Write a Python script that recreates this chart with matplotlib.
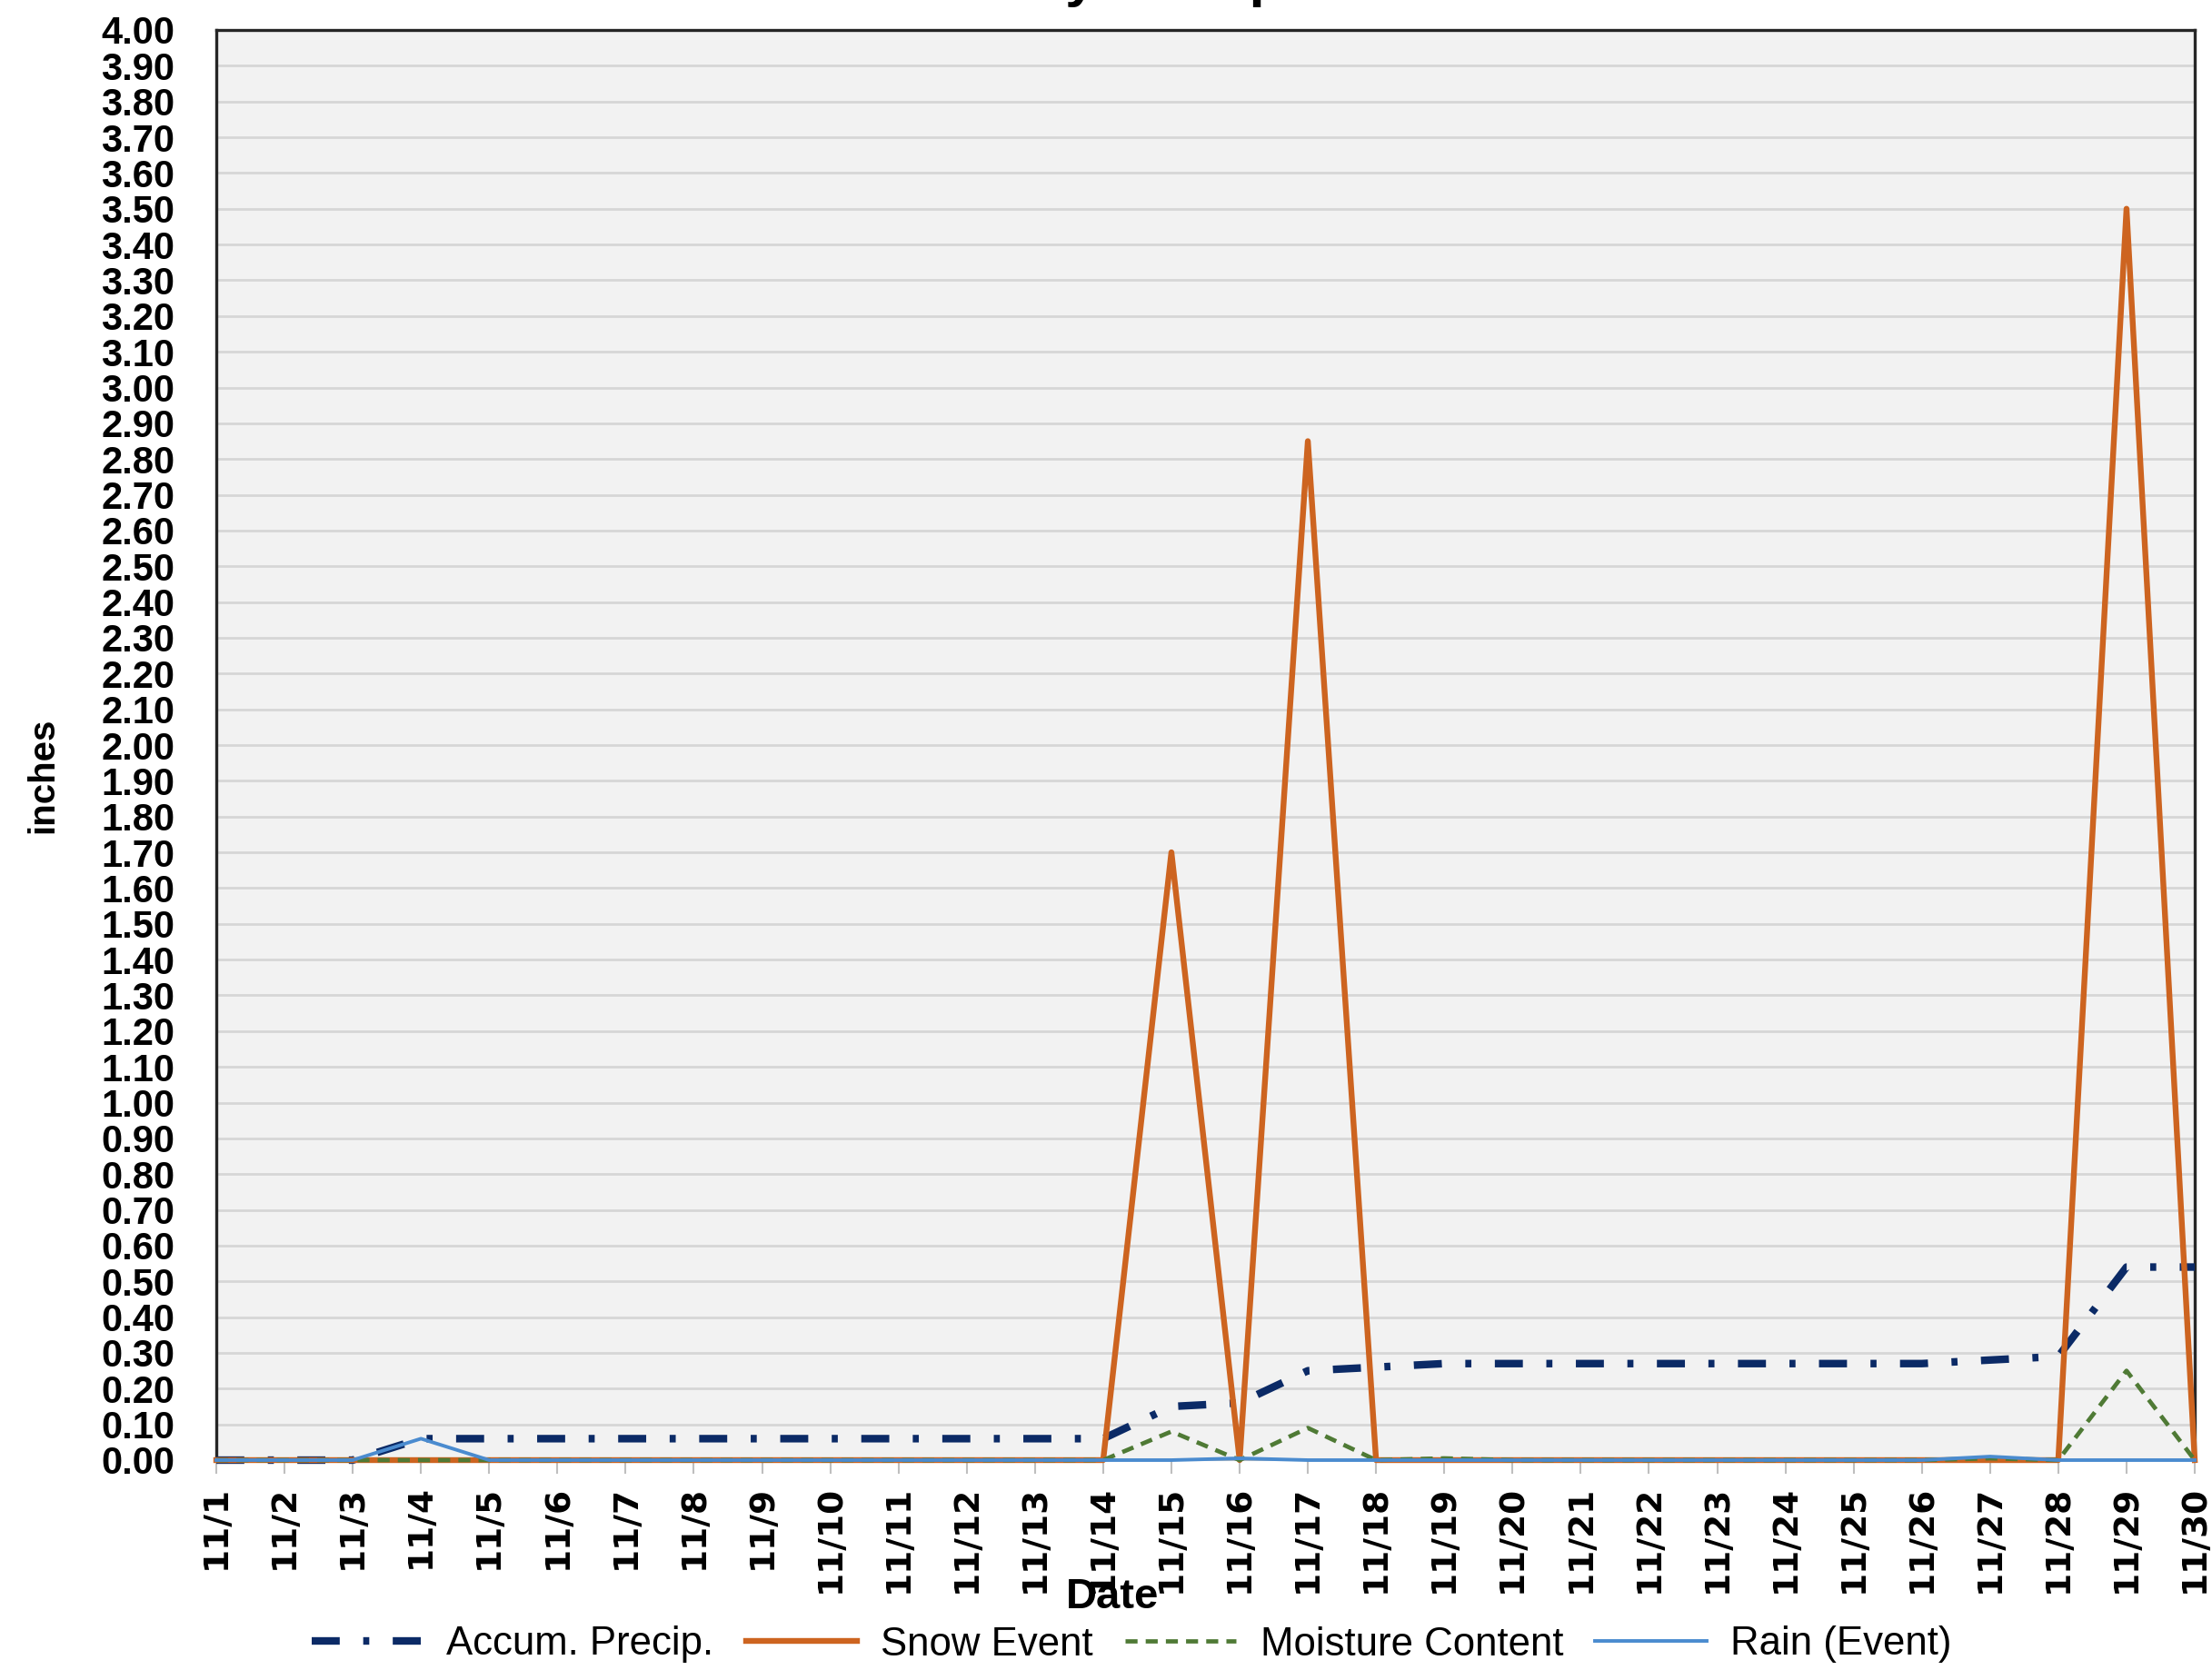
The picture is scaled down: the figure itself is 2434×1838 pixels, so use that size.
import numpy as np
import matplotlib.pyplot as plt

# November daily values (inches), one per day
dates = ['11/%d' % d for d in range(1, 31)]
accum_precip = [0.00, 0.00, 0.00, 0.06, 0.06, 0.06, 0.06, 0.06, 0.06, 0.06,
                0.06, 0.06, 0.06, 0.06, 0.15, 0.16, 0.25, 0.26, 0.27, 0.27,
                0.27, 0.27, 0.27, 0.27, 0.27, 0.27, 0.28, 0.29, 0.54, 0.54]
snow_event = [0, 0, 0, 0, 0, 0, 0, 0, 0, 0,
              0, 0, 0, 0, 1.70, 0, 2.85, 0, 0, 0,
              0, 0, 0, 0, 0, 0, 0, 0, 3.50, 0]
moisture = [0, 0, 0, 0, 0, 0, 0, 0, 0, 0,
            0, 0, 0, 0, 0.08, 0, 0.09, 0, 0.005, 0,
            0, 0, 0, 0, 0, 0, 0.005, 0, 0.25, 0]
rain_event = [0, 0, 0, 0.06, 0, 0, 0, 0, 0, 0,
              0, 0, 0, 0, 0, 0.005, 0, 0, 0, 0,
              0, 0, 0, 0, 0, 0, 0.01, 0, 0, 0]

plt.rcParams['font.family'] = ['Liberation Sans', 'DejaVu Sans']

W, H = 2434, 1838
fig = plt.figure(figsize=(W / 100, H / 100), dpi=100)
left, right, top, bottom = 238, 2415, 33, 1607
ax = fig.add_axes([left / W, 1 - bottom / H, (right - left) / W, (bottom - top) / H])
ax.set_facecolor('#F2F2F2')

x = np.arange(len(dates))

# series (drawn in legend order so rain sits on top)
ax.plot(x, accum_precip, color='#0B2A66', lw=6.0, ls=(0, (3.7, 3.1, 0.8, 3.1)),
        label='Accum. Precip.', zorder=3, clip_on=False)
ax.plot(x, snow_event, color='#CD6420', lw=4.6, label='Snow Event', zorder=3, clip_on=False)
ax.plot(x, moisture, color='#4F7A35', lw=3.4, ls=(0, (2.8, 1.9)),
        label='Moisture Content', zorder=3, clip_on=False)
ax.plot(x, rain_event, color='#4A8BCF', lw=2.8, label='Rain (Event)', zorder=3, clip_on=False)

ax.set_xlim(0, len(dates) - 1)
ax.set_ylim(0, 4.0)

yt = np.round(np.arange(0, 4.001, 0.1), 2)
ax.set_yticks(yt)
ax.set_yticklabels(['%.2f' % v for v in yt], fontsize=30, fontweight='bold')
ax.yaxis.grid(True, color='#D6D6D6', lw=2.0)
ax.set_axisbelow(True)
ax.tick_params(axis='y', length=0, pad=33)

ax.set_xticks(x)
ax.set_xticklabels(dates, rotation=90, fontsize=27, fontweight='bold',
                   family='DejaVu Sans')
ax.tick_params(axis='x', length=10.8, width=1.5, color='#BFBFBF', pad=9)

for s in ['left', 'top', 'right']:
    ax.spines[s].set_color('#262626')
    ax.spines[s].set_linewidth(2.4)
ax.spines['bottom'].set_color('#BFBFBF')
ax.spines['bottom'].set_linewidth(1.5)

# axis labels
fig.text(47 / W, 1 - 853 / H, 'inches', rotation=90, ha='center', va='center',
         fontsize=29, fontweight='bold')
fig.text(1224 / W, 1 - 1758 / H, 'Date', ha='center', va='center',
         fontsize=34, fontweight='bold')

# title, mostly cut off by the top edge
fig.text(740 / W, 1 + 5 / H, 'November Daily Precipitation', ha='left', va='baseline',
         fontsize=44.5, fontweight='bold')

fig.legend(loc='center', bbox_to_anchor=(1245 / W, 1 - 1810 / H), ncol=4,
           frameon=False, fontsize=31.5, handlelength=2.8, handletextpad=0.6,
           columnspacing=0.8, borderpad=0, borderaxespad=0)

fig.savefig('out.png', dpi=100)
